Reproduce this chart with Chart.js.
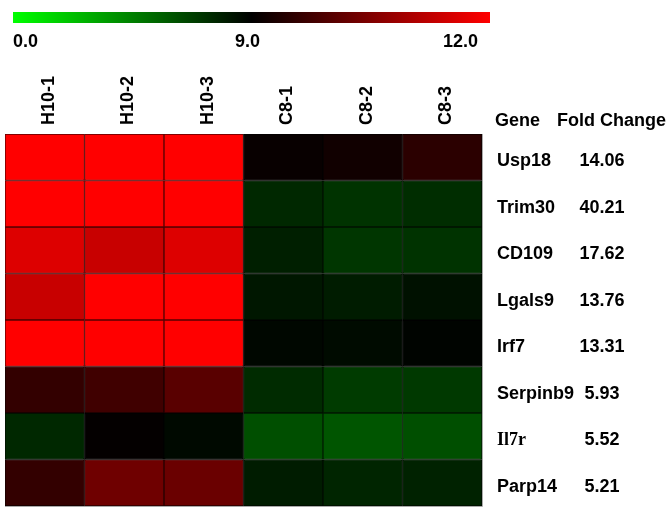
<!DOCTYPE html>
<html>
<head>
<meta charset="utf-8">
<script src="https://cdn.jsdelivr.net/npm/chart.js@4"></script>
<style>
  body { margin: 0; background: #fff; }
  canvas { display: block; }
</style>
</head>
<body>
<canvas id="heatmap" width="672" height="512"></canvas>
<script>
// columnas (muestras) y filas (genes)
const columns = ['H10-1', 'H10-2', 'H10-3', 'C8-1', 'C8-2', 'C8-3'];
const genes = ['Usp18', 'Trim30', 'CD109', 'Lgals9', 'Irf7', 'Serpinb9', 'Il7r', 'Parp14'];
const foldChange = ['14.06', '40.21', '17.62', '13.76', '13.31', '5.93', '5.52', '5.21'];
const colorbarTicks = ['0.0', '9.0', '12.0'];

const usp18    = [12.0, 12.0, 12.0, 9.1, 9.2, 9.5];
const trim30   = [12.0, 12.0, 12.0, 7.6, 7.2, 7.4];
const cd109    = [11.6, 11.35, 11.6, 7.9, 7.1, 7.2];
const lgals9   = [11.35, 12.0, 12.0, 8.2, 8.0, 8.4];
const irf7     = [12.0, 12.0, 12.0, 8.75, 8.6, 8.85];
const serpinb9 = [9.6, 9.75, 10.05, 7.5, 6.9, 7.0];
const il7r     = [7.6, 9.05, 8.7, 6.2, 6.0, 6.2];
const parp14   = [9.6, 10.3, 10.25, 8.0, 7.7, 7.8];

const rows = [usp18, trim30, cd109, lgals9, irf7, serpinb9, il7r, parp14];

// escala verde -> negro (9) -> rojo (12)
function valueRGB(v) {
    if (v <= 9) {
        return [0, Math.round(255 * Math.max(0, (9 - v) / 9)), 0];
    }
    return [Math.round(255 * Math.min(1, (v - 9) / 3)), 0, 0];
}
function valueColor(v) {
    const c = valueRGB(v);
    return `rgb(${c[0]}, ${c[1]}, ${c[2]})`;
}
function borderColor(v) {
    const c = valueRGB(v).map(k => Math.round(k * 0.35));
    return `rgb(${c[0]}, ${c[1]}, ${c[2]})`;
}

const FONT = 'bold 18px "Liberation Sans", Arial, sans-serif';

const labelsPlugin = {
    id: 'heatLabels',
    afterDraw(chart) {
        const ctx = chart.ctx;
        const xs = chart.scales.x;
        const ys = chart.scales.y;
        const area = chart.chartArea;
        ctx.save();

        // barra de color
        const barL = 13, barR = 490;
        const grad = ctx.createLinearGradient(barL, 0, barR, 0);
        grad.addColorStop(0, 'rgb(0,255,0)');
        grad.addColorStop(0.5, 'rgb(0,0,0)');
        grad.addColorStop(1, 'rgb(255,0,0)');
        ctx.fillStyle = grad;
        ctx.fillRect(barL, 12, barR - barL, 11);

        ctx.fillStyle = '#000';
        ctx.font = FONT;
        ctx.textBaseline = 'alphabetic';
        ctx.textAlign = 'left';
        ctx.fillText(colorbarTicks[0], barL, 47);
        ctx.textAlign = 'center';
        ctx.fillText(colorbarTicks[1], (barL + barR) / 2 - 4, 47);
        ctx.textAlign = 'right';
        ctx.fillText(colorbarTicks[2], 478, 47);

        // etiquetas de columnas (rotadas)
        columns.forEach((c, j) => {
            const x = xs.getPixelForValue(j) + 4;
            ctx.save();
            ctx.translate(x, 125);
            ctx.rotate(-Math.PI / 2);
            ctx.textAlign = 'left';
            ctx.textBaseline = 'middle';
            ctx.fillText(c, 0, 0);
            ctx.restore();
        });

        // encabezado derecho
        ctx.textBaseline = 'middle';
        ctx.textAlign = 'left';
        ctx.fillText('Gene', 495, 121);
        ctx.fillText('Fold Change', 557, 121);

        // genes y fold change
        genes.forEach((g, i) => {
            const y = ys.getPixelForValue(i + 0.5) + 4;
            ctx.textAlign = 'left';
            ctx.font = g === 'Il7r' ? 'bold 18px "Liberation Serif", serif' : FONT;
            ctx.fillText(g, 497, y);
            ctx.font = FONT;
            ctx.textAlign = 'center';
            ctx.fillText(foldChange[i], 602, y);
        });

        // borde exterior
        ctx.strokeStyle = '#aaa';
        ctx.lineWidth = 1;
        ctx.beginPath();
        ctx.moveTo(area.right + 0.5, area.top);
        ctx.lineTo(area.right + 0.5, area.bottom + 0.5);
        ctx.lineTo(area.left, area.bottom + 0.5);
        ctx.stroke();
        ctx.restore();
    }
};

const heatmapChart = new Chart(document.getElementById('heatmap'), {
    type: 'bar',
    data: {
        labels: columns,
        datasets: genes.map((g, i) => ({
            label: g,
            data: columns.map(() => 1),
            backgroundColor: rows[i].map(valueColor),
            borderColor: rows[i].map(borderColor),
            borderWidth: 1,
            borderSkipped: false,
            barPercentage: 1,
            categoryPercentage: 1
        }))
    },
    options: {
        responsive: false,
        animation: false,
        layout: { padding: { left: 5, top: 134, right: 190, bottom: 6 } },
        plugins: { legend: { display: false }, tooltip: { enabled: false } },
        scales: {
            x: { display: false, stacked: true },
            y: { display: false, stacked: true, min: 0, max: genes.length, reverse: true }
        }
    },
    plugins: [labelsPlugin]
});
</script>
</body>
</html>
